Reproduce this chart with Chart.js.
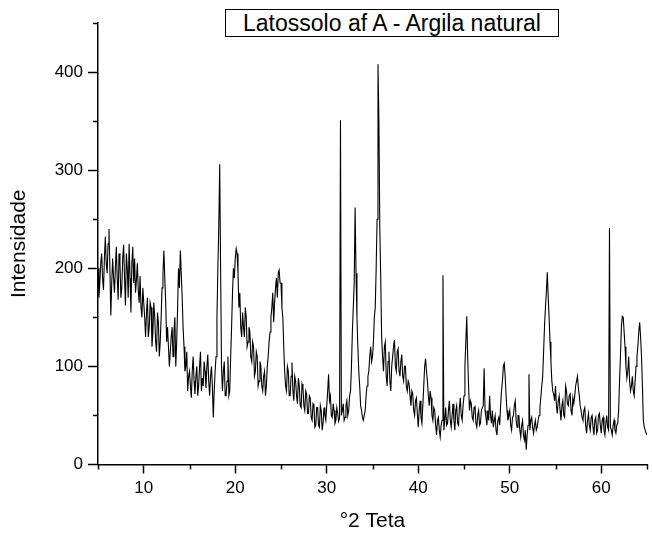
<!DOCTYPE html>
<html>
<head>
<meta charset="utf-8">
<script src="https://cdn.jsdelivr.net/npm/chart.js@4.4.0/dist/chart.umd.min.js"></script>
<style>
  html, body { margin: 0; padding: 0; background: #fff; overflow: hidden; }
  #wrap { position: relative; width: 652px; height: 536px; }
  #titleBox {
    position: absolute; left: 225px; top: 9px; width: 332px; height: 26px;
    border: 1px solid #000; background: #fff; color: #000;
    font: 23px "Liberation Sans", Arial, sans-serif;
    line-height: 26px; text-align: center; white-space: nowrap;
  }
</style>
</head>
<body>
<div id="wrap">
  <canvas id="xrd" width="652" height="536"></canvas>
  <div id="titleBox">Latossolo af A - Argila natural</div>
</div>
<script>
// scan grid: 5 to 65 °2θ, one reading every 0.1°
const scanStart = 5;
const scanStep = 0.1;

// intensity, one row per degree
const seg05to15 = [
  200, 170, 185, 205, 215, 190, 178, 210, 232, 205,
  195, 225, 240, 200, 152, 185, 210, 190, 175, 200,
  222, 190, 168, 215, 205, 170, 180, 210, 224, 190,
  162, 215, 200, 170, 225, 190, 155, 205, 222, 185,
  210, 175, 188, 205, 178, 165, 192, 160, 150, 180,
  165, 150, 130, 155, 170, 130, 140, 165, 160, 120,
  135, 165, 150, 125, 115, 155, 145, 110, 125, 150,
  180, 195, 218, 190, 165, 125, 140, 120, 100, 115,
  130, 140, 110, 135, 150, 100, 125, 160, 200, 180,
  218, 195, 170, 140, 120, 95, 100, 115, 75, 90];
const seg15to25 = [
  95, 80, 68, 95, 110, 85, 72, 90, 100, 70,
  80, 100, 115, 75, 88, 80, 105, 95, 78, 100,
  112, 85, 70, 90, 100, 80, 48, 75, 95, 110,
  150, 200, 242, 306, 200, 100, 75, 95, 105, 70,
  70, 85, 110, 70, 75, 110, 140, 175, 200, 190,
  210, 220, 215, 195, 160, 175, 140, 130, 155, 140,
  130, 160, 150, 120, 125, 140, 135, 110, 105, 125,
  120, 90, 95, 115, 110, 80, 85, 105, 100, 80,
  75, 90, 95, 70, 80, 100, 110, 125, 135, 150,
  160, 175, 145, 165, 180, 190, 170, 195, 198, 185];
const seg25to35 = [
  185, 160, 150, 120, 95, 80, 75, 100, 95, 70,
  70, 90, 104, 75, 65, 90, 85, 70, 62, 88,
  80, 60, 58, 82, 78, 60, 55, 75, 72, 52,
  52, 70, 68, 48, 45, 62, 60, 38, 40, 58,
  58, 40, 38, 60, 55, 35, 42, 58, 50, 45,
  60, 75, 92, 65, 70, 50, 48, 62, 55, 42,
  45, 58, 52, 44, 47, 351, 50, 55, 62, 45,
  48, 60, 65, 50, 55, 70, 75, 100, 135, 160,
  185, 262, 195, 150, 120, 95, 80, 60, 55, 48,
  45, 50, 55, 70, 80, 90, 95, 110, 120, 105];
const seg35to45 = [
  110, 125, 150, 160, 200, 250, 408, 350, 240, 190,
  130, 110, 95, 120, 125, 90, 80, 105, 115, 85,
  75, 100, 110, 120, 127, 100, 95, 115, 118, 95,
  90, 105, 112, 90, 85, 100, 100, 80, 75, 85,
  82, 70, 60, 75, 72, 55, 50, 65, 68, 52,
  38, 55, 65, 48, 42, 60, 80, 100, 108, 95,
  85, 70, 60, 75, 68, 50, 45, 58, 55, 40,
  30, 45, 48, 35, 28, 40, 45, 193, 35, 45,
  58, 40, 42, 55, 65, 45, 38, 50, 62, 45,
  35, 55, 60, 42, 40, 58, 68, 50, 45, 60];
const seg45to55 = [
  70, 100, 125, 151, 110, 80, 55, 65, 62, 48,
  45, 58, 60, 42, 38, 50, 55, 40, 42, 55,
  58, 60, 98, 55, 48, 40, 55, 45, 70, 50,
  42, 55, 38, 45, 50, 35, 30, 45, 48, 40,
  60, 75, 85, 100, 103, 90, 70, 55, 45, 50,
  55, 40, 35, 48, 50, 60, 65, 45, 38, 50,
  50, 35, 28, 40, 45, 30, 25, 35, 15, 30,
  40, 92, 35, 45, 48, 38, 32, 40, 45, 35,
  38, 45, 50, 58, 69, 80, 90, 115, 141, 160,
  175, 196, 172, 150, 125, 105, 85, 75, 72, 65];
const seg55to65 = [
  80, 60, 52, 65, 70, 55, 45, 60, 65, 50,
  48, 80, 75, 62, 60, 70, 72, 55, 50, 68,
  62, 70, 80, 85, 90, 78, 70, 60, 55, 48,
  45, 55, 58, 40, 32, 45, 52, 40, 35, 48,
  50, 38, 30, 45, 48, 32, 35, 50, 52, 40,
  32, 45, 48, 35, 30, 42, 50, 38, 35, 241,
  38, 35, 30, 40, 45, 35, 32, 40, 42, 55,
  85, 110, 140, 151, 150, 135, 120, 100, 88, 95,
  110, 85, 75, 80, 90, 75, 70, 85, 100, 110,
  120, 135, 145, 130, 110, 80, 45, 38, 35, 32,
  30];

const font = "'Liberation Sans', Arial, sans-serif";

const intensity = [].concat(seg05to15, seg15to25, seg25to35, seg35to45, seg45to55, seg55to65);
const points = intensity.map((v, i) => ({ x: Math.round((scanStart + i * scanStep) * 100) / 100, y: v }));

// short minor ticks, Origin style
const minorTicks = {
  id: "minorTicks",
  afterDraw(chart) {
    const { ctx, chartArea, scales } = chart;
    ctx.save();
    ctx.strokeStyle = "#000";
    ctx.lineWidth = 1.5;
    ctx.beginPath();
    scales.x.ticks.filter(t => t.value % 10 !== 0).forEach(t => {
      const px = Math.round(scales.x.getPixelForValue(t.value)) + 0.5;
      ctx.moveTo(px, chartArea.bottom);
      ctx.lineTo(px, chartArea.bottom + 5);
    });
    scales.y.ticks.filter(t => t.value % 100 !== 0).forEach(t => {
      const py = Math.round(scales.y.getPixelForValue(t.value)) + 0.5;
      ctx.moveTo(chartArea.left, py);
      ctx.lineTo(chartArea.left - 5, py);
    });
    ctx.stroke();
    ctx.restore();
  }
};

new Chart(document.getElementById("xrd"), {
  type: "line",
  data: {
    datasets: [{
      data: points,
      borderColor: "#000",
      borderWidth: 1.1,
      pointRadius: 0,
      tension: 0,
      fill: false
    }]
  },
  options: {
    responsive: false,
    animation: false,
    devicePixelRatio: 1,
    layout: { padding: { top: 23, right: 1, bottom: 0, left: 0 } },
    plugins: { legend: { display: false }, tooltip: { enabled: false } },
    scales: {
      x: {
        type: "linear",
        min: 5,
        max: 65,
        afterFit: s => { s.height = 71.5; },
        border: { color: "#000", width: 1.5 },
        grid: {
          drawOnChartArea: false,
          tickLength: 9,
          tickWidth: 1.5,
          tickColor: c => (c.tick && c.tick.value % 10 === 0) ? "#000" : "rgba(0,0,0,0)"
        },
        ticks: {
          stepSize: 5,
          autoSkip: false,
          maxRotation: 0,
          padding: 5,
          color: "#000",
          font: { family: font, size: 17 },
          callback: v => v % 10 === 0 ? v : ""
        },
        title: {
          display: true,
          text: "°2 Teta",
          color: "#000",
          font: { family: font, size: 21 },
          padding: { top: 0, bottom: 2 }
        }
      },
      y: {
        min: 0,
        max: 450,
        afterFit: s => { s.width = 98; },
        border: { color: "#000", width: 1.5 },
        grid: {
          drawOnChartArea: false,
          tickLength: 10,
          tickWidth: 1.5,
          tickColor: c => (c.tick && c.tick.value % 100 === 0) ? "#000" : "rgba(0,0,0,0)"
        },
        ticks: {
          stepSize: 50,
          autoSkip: false,
          padding: 5,
          color: "#000",
          font: { family: font, size: 17 },
          callback: v => v % 100 === 0 ? v : ""
        },
        title: {
          display: true,
          text: "Intensidade",
          color: "#000",
          font: { family: font, size: 21 },
          padding: { top: 7, bottom: 0 }
        }
      }
    }
  },
  plugins: [minorTicks]
});
</script>
</body>
</html>
